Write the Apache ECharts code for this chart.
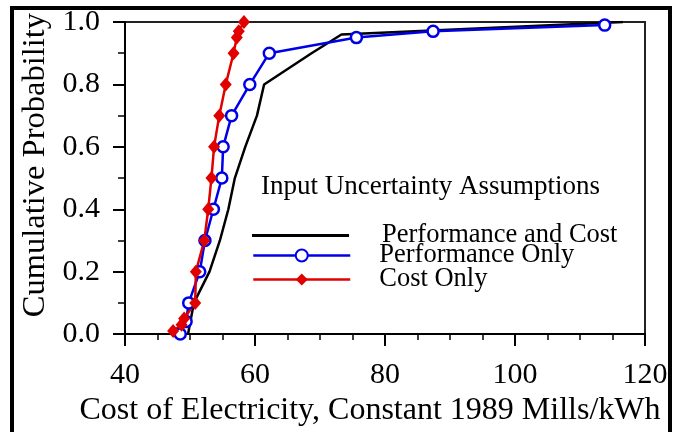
<!DOCTYPE html>
<html>
<head>
<meta charset="utf-8">
<script src="https://cdn.jsdelivr.net/npm/echarts@6/dist/echarts.min.js"></script>
<style>
html,body{margin:0;padding:0;background:#fff;}
#chart{width:676px;height:432px;}
</style>
</head>
<body>
<div id="chart"></div>
<script>
// ---- data ----
var blackX = [49.7, 50.6, 53.0, 54.6, 55.9, 56.9, 58.5, 60.3, 61.4, 68.7, 73.3, 116.6];
var blackP = [0.00, 0.10, 0.20, 0.30, 0.40, 0.50, 0.60, 0.70, 0.80, 0.90, 0.96, 1.00];

var blueX = [48.5, 49.4, 49.8, 51.5, 52.3, 53.6, 54.9, 55.1, 56.4, 59.2, 62.2, 75.6, 87.4, 113.8];
var blueP = [0.00, 0.04, 0.10, 0.20, 0.30, 0.40, 0.50, 0.60, 0.70, 0.80, 0.90, 0.95, 0.97, 0.99];

var redX = [47.4, 48.7, 49.1, 50.8, 50.9, 52.2, 52.8, 53.3, 53.7, 54.5, 55.5, 56.7, 57.2, 57.5, 58.3];
var redP = [0.01, 0.03, 0.05, 0.10, 0.20, 0.30, 0.40, 0.50, 0.60, 0.70, 0.80, 0.90, 0.95, 0.97, 1.00];

var seriesNames = ['Performance and Cost', 'Performance Only', 'Cost Only'];
var legendTitle = 'Input Uncertainty Assumptions';
var xTitle = 'Cost of Electricity, Constant 1989 Mills/kWh';
var yTitle = 'Cumulative Probability';

function pairs(xs, ps) { return xs.map(function (x, i) { return [x, ps[i]]; }); }

var FONT = "'Liberation Serif','Times New Roman',serif";
var chart = echarts.init(document.getElementById('chart'), null, {renderer: 'canvas'});

function legendFor(name, top, extra) {
  var l = {
    data: [name],
    left: 252, top: top,
    padding: 0,
    itemWidth: 97, itemHeight: 15,
    selectedMode: false,
    lineStyle: {width: 2.5},
    textStyle: {fontFamily: FONT, fontSize: 26.5, color: '#000', padding: [4, 0, 0, 24]}
  };
  if (extra) { for (var k in extra) l[k] = extra[k]; }
  return l;
}

chart.setOption({
  animation: false,
  backgroundColor: '#fff',
  grid: {left: 125, right: 31, top: 22, bottom: 94, show: true, borderColor: '#222', borderWidth: 2, backgroundColor: 'transparent'},
  title: {
    text: legendTitle, left: 261, top: 173, padding: 0,
    textStyle: {fontFamily: FONT, fontSize: 27, fontWeight: 'normal', color: '#000'}
  },
  legend: [
    legendFor(seriesNames[0], 222, {icon: 'rect', itemHeight: 3, itemStyle: {color: '#000'},
      textStyle: {fontFamily: FONT, fontSize: 26.5, color: '#000', padding: [4, 0, 0, 28]}}),
    legendFor(seriesNames[1], 242),
    legendFor(seriesNames[2], 266)
  ],
  graphic: [
    {type: 'rect', shape: {x: 10, y: 6, width: 662, height: 4}, style: {fill: '#000'}},
    {type: 'rect', shape: {x: 10, y: 6, width: 4, height: 426}, style: {fill: '#000'}},
    {type: 'rect', shape: {x: 668, y: 6, width: 4, height: 426}, style: {fill: '#000'}}
  ],
  xAxis: {
    type: 'value', min: 40, max: 120, interval: 20,
    name: xTitle, nameLocation: 'middle', nameGap: 57,
    nameTextStyle: {fontFamily: FONT, fontSize: 32, color: '#000', padding: [0, 30, 0, 0]},
    axisLine: {lineStyle: {color: '#000', width: 2}},
    axisTick: {show: true, length: 12, lineStyle: {color: '#000', width: 2}},
    minorTick: {show: true, splitNumber: 4, length: 6, lineStyle: {color: '#000', width: 1.5}},
    splitLine: {show: false},
    axisLabel: {fontFamily: FONT, fontSize: 30, color: '#000', margin: 26}
  },
  yAxis: {
    type: 'value', min: 0, max: 1, interval: 0.2,
    name: yTitle, nameLocation: 'middle', nameGap: 72, nameRotate: 90,
    nameTextStyle: {fontFamily: FONT, fontSize: 32.5, color: '#000', padding: [0, 0, 0, 26]},
    axisLine: {lineStyle: {color: '#000', width: 2}},
    axisTick: {show: true, length: 12, lineStyle: {color: '#000', width: 2}},
    minorTick: {show: true, splitNumber: 2, length: 7, lineStyle: {color: '#000', width: 1.5}},
    splitLine: {show: false},
    axisLabel: {fontFamily: FONT, fontSize: 30, color: '#000', margin: 25,
      formatter: function (v) { return v.toFixed(1); }}
  },
  series: [
    {
      name: seriesNames[0], type: 'line', data: pairs(blackX, blackP),
      symbol: 'none', lineStyle: {color: '#000', width: 2.5}, itemStyle: {color: '#000'}
    },
    {
      name: seriesNames[1], type: 'line', data: pairs(blueX, blueP),
      symbol: 'circle', symbolSize: 11,
      lineStyle: {color: '#0000e6', width: 2.5},
      itemStyle: {color: '#fff', borderColor: '#0000e6', borderWidth: 2.5}
    },
    {
      name: seriesNames[2], type: 'line', data: pairs(redX, redP),
      symbol: 'diamond', symbolSize: [12, 14],
      lineStyle: {color: '#e00000', width: 2.5},
      itemStyle: {color: '#e00000'}
    }
  ]
});
</script>
</body>
</html>
